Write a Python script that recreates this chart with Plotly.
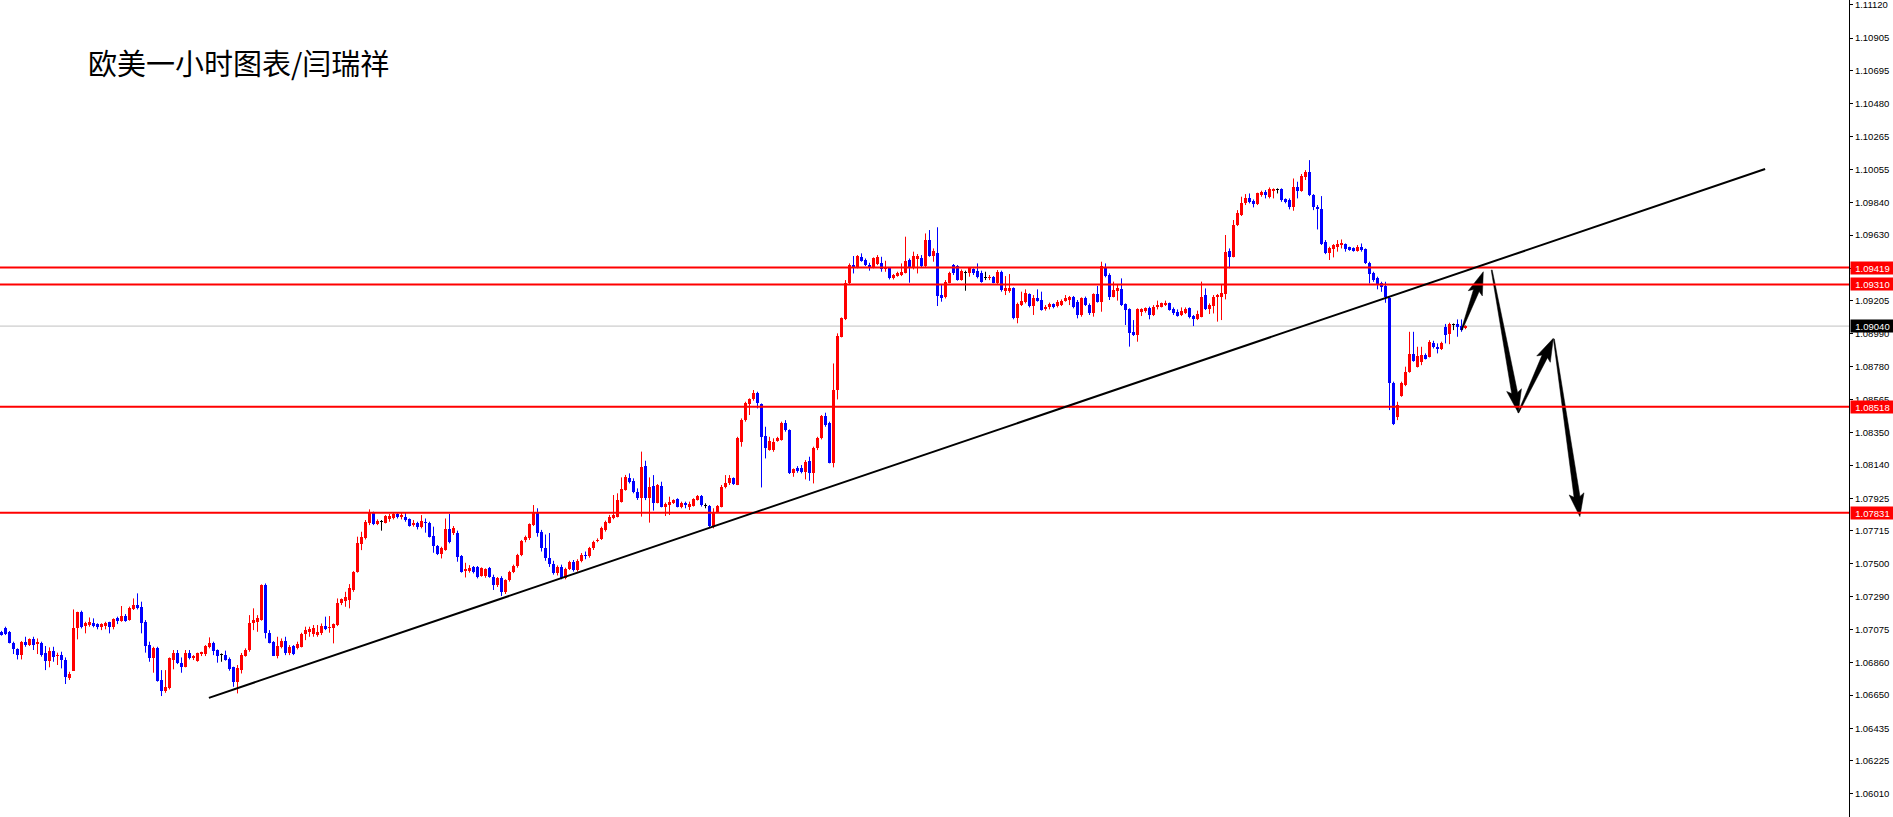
import math
import plotly.graph_objects as go

# ---------------- data ----------------
title_text = "欧美一小时图表/闫瑞祥"

opens = [
    1.07061, 1.07086, 1.07061, 1.06989, 1.06948, 1.06909, 1.06996, 1.06974, 1.07011, 1.06981,
    1.06989, 1.06920, 1.06873, 1.06938, 1.06905, 1.06909, 1.06877, 1.06758, 1.06808, 1.07082,
    1.07190, 1.07097, 1.07104, 1.07119, 1.07108, 1.07093, 1.07097, 1.07121, 1.07093, 1.07147,
    1.07132, 1.07162, 1.07136, 1.07205, 1.07235, 1.07223, 1.07125, 1.06974, 1.06892, 1.06953,
    1.06748, 1.06678, 1.06694, 1.06877, 1.06920, 1.06860, 1.06834, 1.06920, 1.06888, 1.06873,
    1.06914, 1.06916, 1.06963, 1.06989, 1.06942, 1.06916, 1.06909, 1.06881, 1.06830, 1.06737,
    1.06812, 1.06905, 1.06942, 1.07119, 1.07125, 1.07136, 1.07363, 1.07054, 1.06996, 1.06905,
    1.06963, 1.07002, 1.06920, 1.06968, 1.06953, 1.06963, 1.07045, 1.07060, 1.07043, 1.07039,
    1.07054, 1.07097, 1.07082, 1.07082, 1.07104, 1.07244, 1.07261, 1.07266, 1.07330, 1.07449,
    1.07628, 1.07665, 1.07762, 1.07827, 1.07758, 1.07773, 1.07766, 1.07788, 1.07794, 1.07823,
    1.07805, 1.07805, 1.07788, 1.07751, 1.07762, 1.07736, 1.07773, 1.07766, 1.07680, 1.07615,
    1.07563, 1.07589, 1.07723, 1.07697, 1.07697, 1.07550, 1.07456, 1.07456, 1.07477, 1.07477,
    1.07421, 1.07421, 1.07471, 1.07417, 1.07363, 1.07409, 1.07318, 1.07396, 1.07448, 1.07486,
    1.07558, 1.07655, 1.07667, 1.07752, 1.07831, 1.07708, 1.07600, 1.07540, 1.07500, 1.07440,
    1.07480, 1.07410, 1.07470, 1.07510, 1.07460, 1.07520, 1.07560, 1.07550, 1.07600, 1.07650,
    1.07659, 1.07720, 1.07767, 1.07795, 1.07806, 1.07903, 1.07978, 1.08054, 1.08039, 1.07967,
    1.07925, 1.08134, 1.07924, 1.08004, 1.07897, 1.08004, 1.07871, 1.07882, 1.07892, 1.07918,
    1.07866, 1.07897, 1.07871, 1.07875, 1.07914, 1.07940, 1.07881, 1.07875, 1.07737, 1.07838,
    1.07871, 1.07996, 1.08021, 1.08054, 1.08014, 1.08291, 1.08431, 1.08535, 1.08565, 1.08604,
    1.08535, 1.08328, 1.08237, 1.08237, 1.08298, 1.08302, 1.08414, 1.08367, 1.08086, 1.08118,
    1.08118, 1.08097, 1.08168, 1.08090, 1.08248, 1.08313, 1.08457, 1.08410, 1.08155, 1.08626,
    1.08971, 1.09083, 1.09317, 1.09435, 1.09420, 1.09489, 1.09468, 1.09435, 1.09420, 1.09442,
    1.09446, 1.09407, 1.09414, 1.09349, 1.09364, 1.09371, 1.09386, 1.09468, 1.09420, 1.09472,
    1.09478, 1.09429, 1.09597, 1.09494, 1.09515, 1.09241, 1.09230, 1.09321, 1.09435, 1.09429,
    1.09338, 1.09386, 1.09381, 1.09407, 1.09399, 1.09386, 1.09356, 1.09349, 1.09356, 1.09321,
    1.09392, 1.09269, 1.09269, 1.09284, 1.09090, 1.09176, 1.09198, 1.09248, 1.09170, 1.09220,
    1.09209, 1.09148, 1.09161, 1.09183, 1.09170, 1.09176, 1.09205, 1.09209, 1.09226, 1.09198,
    1.09112, 1.09220, 1.09176, 1.09122, 1.09248, 1.09198, 1.09425, 1.09371, 1.09231, 1.09269,
    1.09278, 1.09183, 1.09148, 1.09004, 1.08982, 1.09133, 1.09140, 1.09155, 1.09112, 1.09166,
    1.09166, 1.09176, 1.09187, 1.09148, 1.09133, 1.09112, 1.09127, 1.09155, 1.09105, 1.09084,
    1.09101, 1.09241, 1.09148, 1.09170, 1.09226, 1.09231, 1.09248, 1.09528, 1.09489, 1.09694,
    1.09759, 1.09835, 1.09867, 1.09852, 1.09830, 1.09889, 1.09910, 1.09873, 1.09917, 1.09925,
    1.09925, 1.09860, 1.09856, 1.09809, 1.09938, 1.09917, 1.10003, 1.10040, 1.09889, 1.09813,
    1.09796, 1.09586, 1.09511, 1.09537, 1.09554, 1.09565, 1.09571, 1.09550, 1.09543, 1.09528,
    1.09550, 1.09537, 1.09446, 1.09381, 1.09349, 1.09316, 1.09299, 1.09219, 1.08673, 1.08453,
    1.08587, 1.08658, 1.08744, 1.08859, 1.08777, 1.08809, 1.08852, 1.08841, 1.08932, 1.08906,
    1.08889, 1.09036, 1.08988, 1.09053, 1.09053, 1.09040, 1.09025,
]

highs = [
    1.07066, 1.07093, 1.07065, 1.06996, 1.06953, 1.07000, 1.07028, 1.07017, 1.07028, 1.07017,
    1.06996, 1.06968, 1.06959, 1.06963, 1.06925, 1.06931, 1.06894, 1.06801, 1.07205, 1.07190,
    1.07197, 1.07125, 1.07153, 1.07147, 1.07115, 1.07115, 1.07125, 1.07125, 1.07147, 1.07158,
    1.07227, 1.07175, 1.07223, 1.07276, 1.07309, 1.07255, 1.07136, 1.06996, 1.06963, 1.06963,
    1.06812, 1.06812, 1.06894, 1.06942, 1.06942, 1.06894, 1.06942, 1.06942, 1.06909, 1.06925,
    1.06931, 1.06974, 1.07024, 1.06996, 1.06946, 1.06920, 1.06938, 1.06894, 1.06834, 1.06845,
    1.06923, 1.06953, 1.07168, 1.07212, 1.07168, 1.07367, 1.07373, 1.07071, 1.07000, 1.07028,
    1.07017, 1.07028, 1.06974, 1.06974, 1.06996, 1.07054, 1.07093, 1.07093, 1.07104, 1.07104,
    1.07114, 1.07158, 1.07162, 1.07114, 1.07276, 1.07276, 1.07319, 1.07369, 1.07453, 1.07676,
    1.07708, 1.07784, 1.07853, 1.07838, 1.07788, 1.07784, 1.07816, 1.07823, 1.07831, 1.07831,
    1.07831, 1.07831, 1.07794, 1.07784, 1.07773, 1.07816, 1.07794, 1.07773, 1.07741, 1.07622,
    1.07611, 1.07794, 1.07823, 1.07745, 1.07715, 1.07557, 1.07507, 1.07492, 1.07486, 1.07486,
    1.07477, 1.07471, 1.07480, 1.07430, 1.07415, 1.07420, 1.07400, 1.07455, 1.07495, 1.07565,
    1.07655, 1.07683, 1.07762, 1.07881, 1.07860, 1.07720, 1.07690, 1.07700, 1.07520, 1.07490,
    1.07495, 1.07475, 1.07520, 1.07525, 1.07530, 1.07570, 1.07580, 1.07610, 1.07650, 1.07665,
    1.07741, 1.07780, 1.07817, 1.07946, 1.07957, 1.08060, 1.08076, 1.08086, 1.08054, 1.07989,
    1.08227, 1.08168, 1.08060, 1.08075, 1.08017, 1.08032, 1.07897, 1.07935, 1.07918, 1.07925,
    1.07903, 1.07903, 1.07903, 1.07925, 1.07946, 1.07946, 1.07892, 1.07881, 1.07860, 1.07881,
    1.08011, 1.08075, 1.08075, 1.08060, 1.08323, 1.08442, 1.08550, 1.08572, 1.08626, 1.08615,
    1.08539, 1.08388, 1.08323, 1.08313, 1.08323, 1.08421, 1.08431, 1.08371, 1.08118, 1.08133,
    1.08140, 1.08172, 1.08194, 1.08259, 1.08323, 1.08464, 1.08479, 1.08421, 1.08798, 1.08993,
    1.09096, 1.09338, 1.09446, 1.09494, 1.09500, 1.09511, 1.09478, 1.09450, 1.09485, 1.09500,
    1.09489, 1.09463, 1.09420, 1.09377, 1.09392, 1.09446, 1.09619, 1.09478, 1.09522, 1.09507,
    1.09500, 1.09640, 1.09662, 1.09543, 1.09680, 1.09306, 1.09338, 1.09392, 1.09442, 1.09435,
    1.09407, 1.09399, 1.09420, 1.09414, 1.09446, 1.09399, 1.09392, 1.09371, 1.09364, 1.09403,
    1.09399, 1.09364, 1.09377, 1.09291, 1.09192, 1.09263, 1.09278, 1.09252, 1.09241, 1.09278,
    1.09263, 1.09176, 1.09192, 1.09187, 1.09209, 1.09213, 1.09241, 1.09235, 1.09235, 1.09209,
    1.09226, 1.09231, 1.09187, 1.09252, 1.09300, 1.09457, 1.09446, 1.09382, 1.09328, 1.09306,
    1.09349, 1.09187, 1.09155, 1.09079, 1.09155, 1.09155, 1.09161, 1.09166, 1.09176, 1.09205,
    1.09192, 1.09205, 1.09192, 1.09161, 1.09148, 1.09161, 1.09161, 1.09161, 1.09112, 1.09140,
    1.09328, 1.09284, 1.09187, 1.09241, 1.09248, 1.09306, 1.09630, 1.09543, 1.09727, 1.09791,
    1.09878, 1.09895, 1.09899, 1.09860, 1.09904, 1.09917, 1.09921, 1.09938, 1.09932, 1.09932,
    1.09932, 1.09867, 1.09867, 1.09996, 1.09975, 1.10025, 1.10050, 1.10115, 1.09895, 1.09824,
    1.09882, 1.09597, 1.09554, 1.09571, 1.09597, 1.09601, 1.09575, 1.09554, 1.09550, 1.09565,
    1.09575, 1.09543, 1.09457, 1.09392, 1.09360, 1.09327, 1.09327, 1.09230, 1.08680, 1.08550,
    1.08680, 1.08777, 1.09003, 1.09003, 1.08906, 1.08906, 1.08863, 1.08949, 1.08945, 1.08928,
    1.08939, 1.09054, 1.09062, 1.09057, 1.09083, 1.09083, 1.09045,
]

lows = [
    1.07035, 1.07039, 1.06985, 1.06916, 1.06881, 1.06881, 1.06963, 1.06968, 1.06942, 1.06916,
    1.06899, 1.06812, 1.06830, 1.06866, 1.06845, 1.06823, 1.06722, 1.06748, 1.06808, 1.07011,
    1.07082, 1.07050, 1.07093, 1.07089, 1.07076, 1.07071, 1.07076, 1.07050, 1.07076, 1.07110,
    1.07125, 1.07125, 1.07132, 1.07201, 1.07205, 1.07050, 1.06925, 1.06866, 1.06795, 1.06737,
    1.06644, 1.06665, 1.06687, 1.06817, 1.06851, 1.06795, 1.06830, 1.06881, 1.06877, 1.06866,
    1.06903, 1.06903, 1.06953, 1.06909, 1.06860, 1.06866, 1.06873, 1.06808, 1.06704, 1.06661,
    1.06790, 1.06899, 1.06931, 1.07071, 1.07060, 1.07132, 1.07017, 1.06985, 1.06903, 1.06888,
    1.06953, 1.06909, 1.06909, 1.06909, 1.06946, 1.06959, 1.07006, 1.07028, 1.07028, 1.07028,
    1.07039, 1.07071, 1.07054, 1.06985, 1.07097, 1.07233, 1.07222, 1.07212, 1.07319, 1.07443,
    1.07589, 1.07658, 1.07751, 1.07751, 1.07751, 1.07715, 1.07762, 1.07773, 1.07788, 1.07794,
    1.07788, 1.07773, 1.07741, 1.07741, 1.07723, 1.07730, 1.07702, 1.07671, 1.07572, 1.07557,
    1.07535, 1.07585, 1.07633, 1.07687, 1.07514, 1.07443, 1.07412, 1.07443, 1.07438, 1.07406,
    1.07417, 1.07410, 1.07410, 1.07331, 1.07350, 1.07292, 1.07305, 1.07385, 1.07440, 1.07475,
    1.07550, 1.07640, 1.07655, 1.07745, 1.07676, 1.07580, 1.07520, 1.07480, 1.07430, 1.07425,
    1.07400, 1.07400, 1.07460, 1.07450, 1.07450, 1.07510, 1.07530, 1.07540, 1.07590, 1.07640,
    1.07655, 1.07709, 1.07762, 1.07789, 1.07801, 1.07897, 1.07974, 1.08021, 1.07957, 1.07914,
    1.07806, 1.07913, 1.07767, 1.07845, 1.07892, 1.07866, 1.07810, 1.07817, 1.07888, 1.07866,
    1.07860, 1.07860, 1.07849, 1.07871, 1.07910, 1.07871, 1.07860, 1.07737, 1.07730, 1.07832,
    1.07866, 1.07989, 1.08011, 1.08011, 1.08010, 1.08259, 1.08421, 1.08464, 1.08557, 1.08507,
    1.07995, 1.08183, 1.08233, 1.08226, 1.08291, 1.08298, 1.08356, 1.08082, 1.08064, 1.08090,
    1.08086, 1.08047, 1.08038, 1.08021, 1.08237, 1.08306, 1.08388, 1.08151, 1.08125, 1.08565,
    1.08967, 1.09079, 1.09306, 1.09381, 1.09414, 1.09457, 1.09429, 1.09399, 1.09414, 1.09435,
    1.09392, 1.09392, 1.09342, 1.09342, 1.09360, 1.09364, 1.09381, 1.09321, 1.09407, 1.09381,
    1.09420, 1.09420, 1.09489, 1.09457, 1.09170, 1.09198, 1.09219, 1.09317, 1.09371, 1.09334,
    1.09334, 1.09269, 1.09360, 1.09371, 1.09349, 1.09321, 1.09338, 1.09338, 1.09317, 1.09313,
    1.09263, 1.09241, 1.09256, 1.09084, 1.09058, 1.09170, 1.09187, 1.09161, 1.09112, 1.09198,
    1.09140, 1.09140, 1.09148, 1.09155, 1.09161, 1.09170, 1.09198, 1.09176, 1.09155, 1.09090,
    1.09101, 1.09170, 1.09112, 1.09101, 1.09192, 1.09133, 1.09356, 1.09209, 1.09226, 1.09205,
    1.09170, 1.09047, 1.08907, 1.08976, 1.08939, 1.09105, 1.09127, 1.09084, 1.09105, 1.09148,
    1.09161, 1.09170, 1.09140, 1.09112, 1.09101, 1.09105, 1.09118, 1.09090, 1.09040, 1.09079,
    1.09097, 1.09144, 1.09118, 1.09122, 1.09069, 1.09079, 1.09213, 1.09414, 1.09485, 1.09688,
    1.09753, 1.09824, 1.09835, 1.09809, 1.09824, 1.09878, 1.09867, 1.09867, 1.09867, 1.09899,
    1.09845, 1.09835, 1.09796, 1.09787, 1.09867, 1.09910, 1.09986, 1.09882, 1.09791, 1.09666,
    1.09565, 1.09506, 1.09468, 1.09485, 1.09522, 1.09543, 1.09522, 1.09528, 1.09522, 1.09522,
    1.09522, 1.09442, 1.09316, 1.09327, 1.09278, 1.09262, 1.09191, 1.08496, 1.08399, 1.08431,
    1.08582, 1.08651, 1.08738, 1.08809, 1.08772, 1.08787, 1.08824, 1.08837, 1.08895, 1.08863,
    1.08885, 1.08928, 1.08923, 1.09014, 1.08971, 1.09003, 1.09020,
]

closes = [
    1.07040, 1.07045, 1.06989, 1.06946, 1.06909, 1.06996, 1.06974, 1.07011, 1.06974, 1.06996,
    1.06909, 1.06873, 1.06938, 1.06899, 1.06912, 1.06877, 1.06765, 1.06786, 1.07082, 1.07186,
    1.07089, 1.07115, 1.07121, 1.07097, 1.07089, 1.07108, 1.07115, 1.07089, 1.07143, 1.07132,
    1.07162, 1.07132, 1.07216, 1.07233, 1.07216, 1.07119, 1.06968, 1.06892, 1.06953, 1.06743,
    1.06678, 1.06700, 1.06888, 1.06920, 1.06860, 1.06830, 1.06920, 1.06888, 1.06903, 1.06920,
    1.06927, 1.06968, 1.06985, 1.06938, 1.06905, 1.06916, 1.06877, 1.06817, 1.06732, 1.06823,
    1.06910, 1.06943, 1.07119, 1.07136, 1.07147, 1.07363, 1.07054, 1.06989, 1.06905, 1.06968,
    1.07002, 1.06920, 1.06963, 1.06914, 1.06981, 1.07045, 1.07071, 1.07076, 1.07086, 1.07060,
    1.07097, 1.07076, 1.07093, 1.07110, 1.07244, 1.07270, 1.07283, 1.07341, 1.07449, 1.07633,
    1.07671, 1.07773, 1.07827, 1.07758, 1.07779, 1.07773, 1.07810, 1.07810, 1.07823, 1.07801,
    1.07816, 1.07784, 1.07745, 1.07762, 1.07736, 1.07779, 1.07762, 1.07676, 1.07615, 1.07563,
    1.07600, 1.07723, 1.07643, 1.07730, 1.07546, 1.07449, 1.07464, 1.07471, 1.07449, 1.07412,
    1.07471, 1.07464, 1.07417, 1.07363, 1.07409, 1.07318, 1.07396, 1.07448, 1.07486, 1.07558,
    1.07648, 1.07676, 1.07758, 1.07831, 1.07702, 1.07600, 1.07540, 1.07500, 1.07440, 1.07480,
    1.07410, 1.07470, 1.07510, 1.07460, 1.07520, 1.07560, 1.07550, 1.07600, 1.07640, 1.07656,
    1.07730, 1.07774, 1.07806, 1.07817, 1.07914, 1.07983, 1.08060, 1.08032, 1.07967, 1.07925,
    1.08125, 1.07924, 1.07999, 1.07892, 1.08011, 1.07870, 1.07888, 1.07903, 1.07914, 1.07871,
    1.07892, 1.07881, 1.07888, 1.07918, 1.07940, 1.07881, 1.07881, 1.07745, 1.07838, 1.07875,
    1.07999, 1.08026, 1.08054, 1.08017, 1.08316, 1.08431, 1.08539, 1.08565, 1.08604, 1.08539,
    1.08323, 1.08248, 1.08298, 1.08291, 1.08313, 1.08410, 1.08367, 1.08086, 1.08112, 1.08103,
    1.08097, 1.08161, 1.08086, 1.08248, 1.08313, 1.08457, 1.08399, 1.08155, 1.08626, 1.08975,
    1.09090, 1.09317, 1.09435, 1.09425, 1.09494, 1.09463, 1.09435, 1.09420, 1.09478, 1.09485,
    1.09407, 1.09420, 1.09349, 1.09371, 1.09381, 1.09392, 1.09463, 1.09420, 1.09494, 1.09494,
    1.09429, 1.09597, 1.09494, 1.09528, 1.09234, 1.09219, 1.09327, 1.09386, 1.09381, 1.09338,
    1.09399, 1.09386, 1.09414, 1.09381, 1.09360, 1.09327, 1.09356, 1.09360, 1.09321, 1.09392,
    1.09274, 1.09284, 1.09284, 1.09090, 1.09183, 1.09205, 1.09256, 1.09170, 1.09220, 1.09205,
    1.09144, 1.09166, 1.09183, 1.09166, 1.09198, 1.09205, 1.09220, 1.09226, 1.09161, 1.09112,
    1.09220, 1.09176, 1.09122, 1.09248, 1.09198, 1.09429, 1.09364, 1.09226, 1.09274, 1.09284,
    1.09176, 1.09144, 1.08993, 1.08982, 1.09148, 1.09148, 1.09155, 1.09112, 1.09166, 1.09176,
    1.09187, 1.09192, 1.09144, 1.09122, 1.09105, 1.09140, 1.09148, 1.09101, 1.09084, 1.09118,
    1.09231, 1.09148, 1.09176, 1.09226, 1.09241, 1.09252, 1.09522, 1.09485, 1.09695, 1.09770,
    1.09835, 1.09867, 1.09845, 1.09830, 1.09899, 1.09910, 1.09889, 1.09925, 1.09925, 1.09925,
    1.09856, 1.09845, 1.09809, 1.09938, 1.09917, 1.10012, 1.10040, 1.09889, 1.09813, 1.09796,
    1.09571, 1.09511, 1.09543, 1.09565, 1.09571, 1.09575, 1.09537, 1.09532, 1.09528, 1.09550,
    1.09532, 1.09446, 1.09377, 1.09338, 1.09306, 1.09295, 1.09230, 1.08669, 1.08409, 1.08528,
    1.08669, 1.08744, 1.08859, 1.08815, 1.08846, 1.08852, 1.08830, 1.08939, 1.08906, 1.08889,
    1.08932, 1.08982, 1.09053, 1.09053, 1.09036, 1.09014, 1.09040,
]

bar_index = list(range(1, len(opens) + 1))

level_prices = [1.09419, 1.09310, 1.08518, 1.07831]
current_price = 1.09040

tick_values = [1.11120, 1.10905, 1.10695, 1.10480, 1.10265, 1.10055, 1.09840, 1.09630,
               1.09415, 1.09205, 1.08990, 1.08780, 1.08565, 1.08350, 1.08140, 1.07925,
               1.07715, 1.07500, 1.07290, 1.07075, 1.06860, 1.06650, 1.06435, 1.06225,
               1.06010]

trend_index = [52.85, 441.9]
trend_price = [1.06632, 1.10057]

arrow_from_index = [366.05, 373.55, 380.2, 389.1]
arrow_from_price = [1.09015, 1.09403, 1.08479, 1.08956]
arrow_to_index = [371.45, 380.2, 388.95, 395.6]
arrow_to_price = [1.09392, 1.08479, 1.08961, 1.07806]

# ---------------- geometry / style ----------------
FIG_W, FIG_H = 1893, 817
MARGIN_R = 44
PLOT_W, PLOT_H = FIG_W - MARGIN_R, FIG_H
BAR_PX = 4.0
X0 = 0.625
X1 = X0 + PLOT_W / BAR_PX
PX_PER_UNIT = 15440.0
Y_TOP = 1.11152
Y_BOT = Y_TOP - PLOT_H / PX_PER_UNIT

UP_COL = "#ff0000"
DN_COL = "#0000ff"
DOJI_COL = "#000000"
AX_FONT = dict(family="Liberation Sans, Arial, sans-serif", size=9.5, color="black")


def to_px(k, p):
    return ((k - X0) / (X1 - X0) * PLOT_W, (Y_TOP - p) / (Y_TOP - Y_BOT) * PLOT_H)


def to_data(px, py):
    return (X0 + px / PLOT_W * (X1 - X0), Y_TOP - py / PLOT_H * (Y_TOP - Y_BOT))


fig = go.Figure()

min_body = 1.0 / PX_PER_UNIT
groups = {
    "up": ([i for i in range(len(opens)) if closes[i] > opens[i]], UP_COL),
    "dn": ([i for i in range(len(opens)) if closes[i] < opens[i]], DN_COL),
    "dj": ([i for i in range(len(opens)) if closes[i] == opens[i]], DOJI_COL),
}

# wicks
for name, (idx, col) in groups.items():
    wx, wy = [], []
    for i in idx:
        wx += [bar_index[i], bar_index[i], None]
        wy += [lows[i], highs[i], None]
    fig.add_trace(go.Scatter(x=wx, y=wy, mode="lines", line=dict(color=col, width=1),
                             hoverinfo="skip", showlegend=False))

# bodies
for name, (idx, col) in groups.items():
    bx, bbase, bh = [], [], []
    for i in idx:
        lo = min(opens[i], closes[i])
        h = abs(closes[i] - opens[i])
        if h < min_body:
            lo = lo - (min_body - h) / 2
            h = min_body
        bx.append(bar_index[i])
        bbase.append(lo)
        bh.append(h)
    fig.add_trace(go.Bar(x=bx, y=bh, base=bbase, width=0.75,
                         marker=dict(color=col, line=dict(width=0)),
                         hoverinfo="skip", showlegend=False))

# tapered arrows (drawn objects)
for k0, p0, k1, p1 in zip(arrow_from_index, arrow_from_price, arrow_to_index, arrow_to_price):
    sx, sy = to_px(k0, p0)
    tx, ty = to_px(k1, p1)
    dx, dy = tx - sx, ty - sy
    L = math.hypot(dx, dy)
    ux, uy = dx / L, dy / L
    nx, ny = -uy, ux
    head_len, head_w, w0, w1 = 20.0, 15.0, 1.0, 6.0
    bx_, by_ = tx - ux * head_len, ty - uy * head_len
    pts = [
        (sx + nx * w0 / 2, sy + ny * w0 / 2),
        (bx_ + nx * w1 / 2, by_ + ny * w1 / 2),
        (bx_ - ux * 3 + nx * head_w / 2, by_ - uy * 3 + ny * head_w / 2),
        (tx, ty),
        (bx_ - ux * 3 - nx * head_w / 2, by_ - uy * 3 - ny * head_w / 2),
        (bx_ - nx * w1 / 2, by_ - ny * w1 / 2),
        (sx - nx * w0 / 2, sy - ny * w0 / 2),
    ]
    pts.append(pts[0])
    dat = [to_data(px, py) for px, py in pts]
    fig.add_trace(go.Scatter(x=[d[0] for d in dat], y=[d[1] for d in dat], mode="lines",
                             fill="toself", fillcolor="black", line=dict(color="black", width=0.5),
                             hoverinfo="skip", showlegend=False))

shapes = []
shapes.append(dict(type="line", xref="paper", x0=0, x1=1, yref="y", y0=current_price,
                   y1=current_price, line=dict(color="#c0c0c0", width=1), layer="below"))
for lv in level_prices:
    shapes.append(dict(type="line", xref="paper", x0=0, x1=1, yref="y", y0=lv, y1=lv,
                       line=dict(color="#ff0000", width=2), layer="above"))
shapes.append(dict(type="line", xref="x", yref="y", x0=trend_index[0], y0=trend_price[0],
                   x1=trend_index[1], y1=trend_price[1], line=dict(color="black", width=2),
                   layer="above"))

annotations = []
for lv in level_prices:
    annotations.append(dict(x=1, xref="paper", xanchor="left", xshift=1, y=lv, yref="y",
                            yanchor="middle", text=f"{lv:.5f}", showarrow=False,
                            bgcolor="#ff0000", font=dict(AX_FONT, color="white"),
                            width=43, height=12, borderpad=0, align="center"))
annotations.append(dict(x=1, xref="paper", xanchor="left", xshift=1, y=current_price, yref="y",
                        yanchor="middle", text=f"{current_price:.5f}", showarrow=False,
                        bgcolor="#000000", font=dict(AX_FONT, color="white"),
                        width=43, height=12, borderpad=0, align="center"))
annotations.append(dict(x=86 / PLOT_W, xref="paper", xanchor="left", y=1 - 62 / PLOT_H,
                        yref="paper", yanchor="middle", text=title_text, showarrow=False,
                        font=dict(family="Noto Sans CJK SC, sans-serif", size=29, color="black")))

fig.update_layout(
    width=FIG_W, height=FIG_H,
    margin=dict(l=0, r=MARGIN_R, t=0, b=0, pad=0),
    paper_bgcolor="white", plot_bgcolor="white",
    showlegend=False, barmode="overlay", bargap=0, hovermode=False,
    xaxis=dict(range=[X0, X1], visible=False, automargin=False, fixedrange=True),
    yaxis=dict(side="right", range=[Y_BOT, Y_TOP], tickvals=tick_values,
               ticktext=[f"{v:.5f}" for v in tick_values], ticks="outside", ticklen=3,
               tickwidth=1, tickcolor="black", showline=True, linecolor="black", linewidth=1,
               showgrid=False, zeroline=False, tickfont=AX_FONT, automargin=False,
               ticklabeloverflow="allow", fixedrange=True),
    shapes=shapes, annotations=annotations,
)

fig.write_html(
    "out.html",
    config={"displayModeBar": False, "staticPlot": True},
    post_script="document.body.style.margin='0px';document.body.style.overflow='hidden';",
)
